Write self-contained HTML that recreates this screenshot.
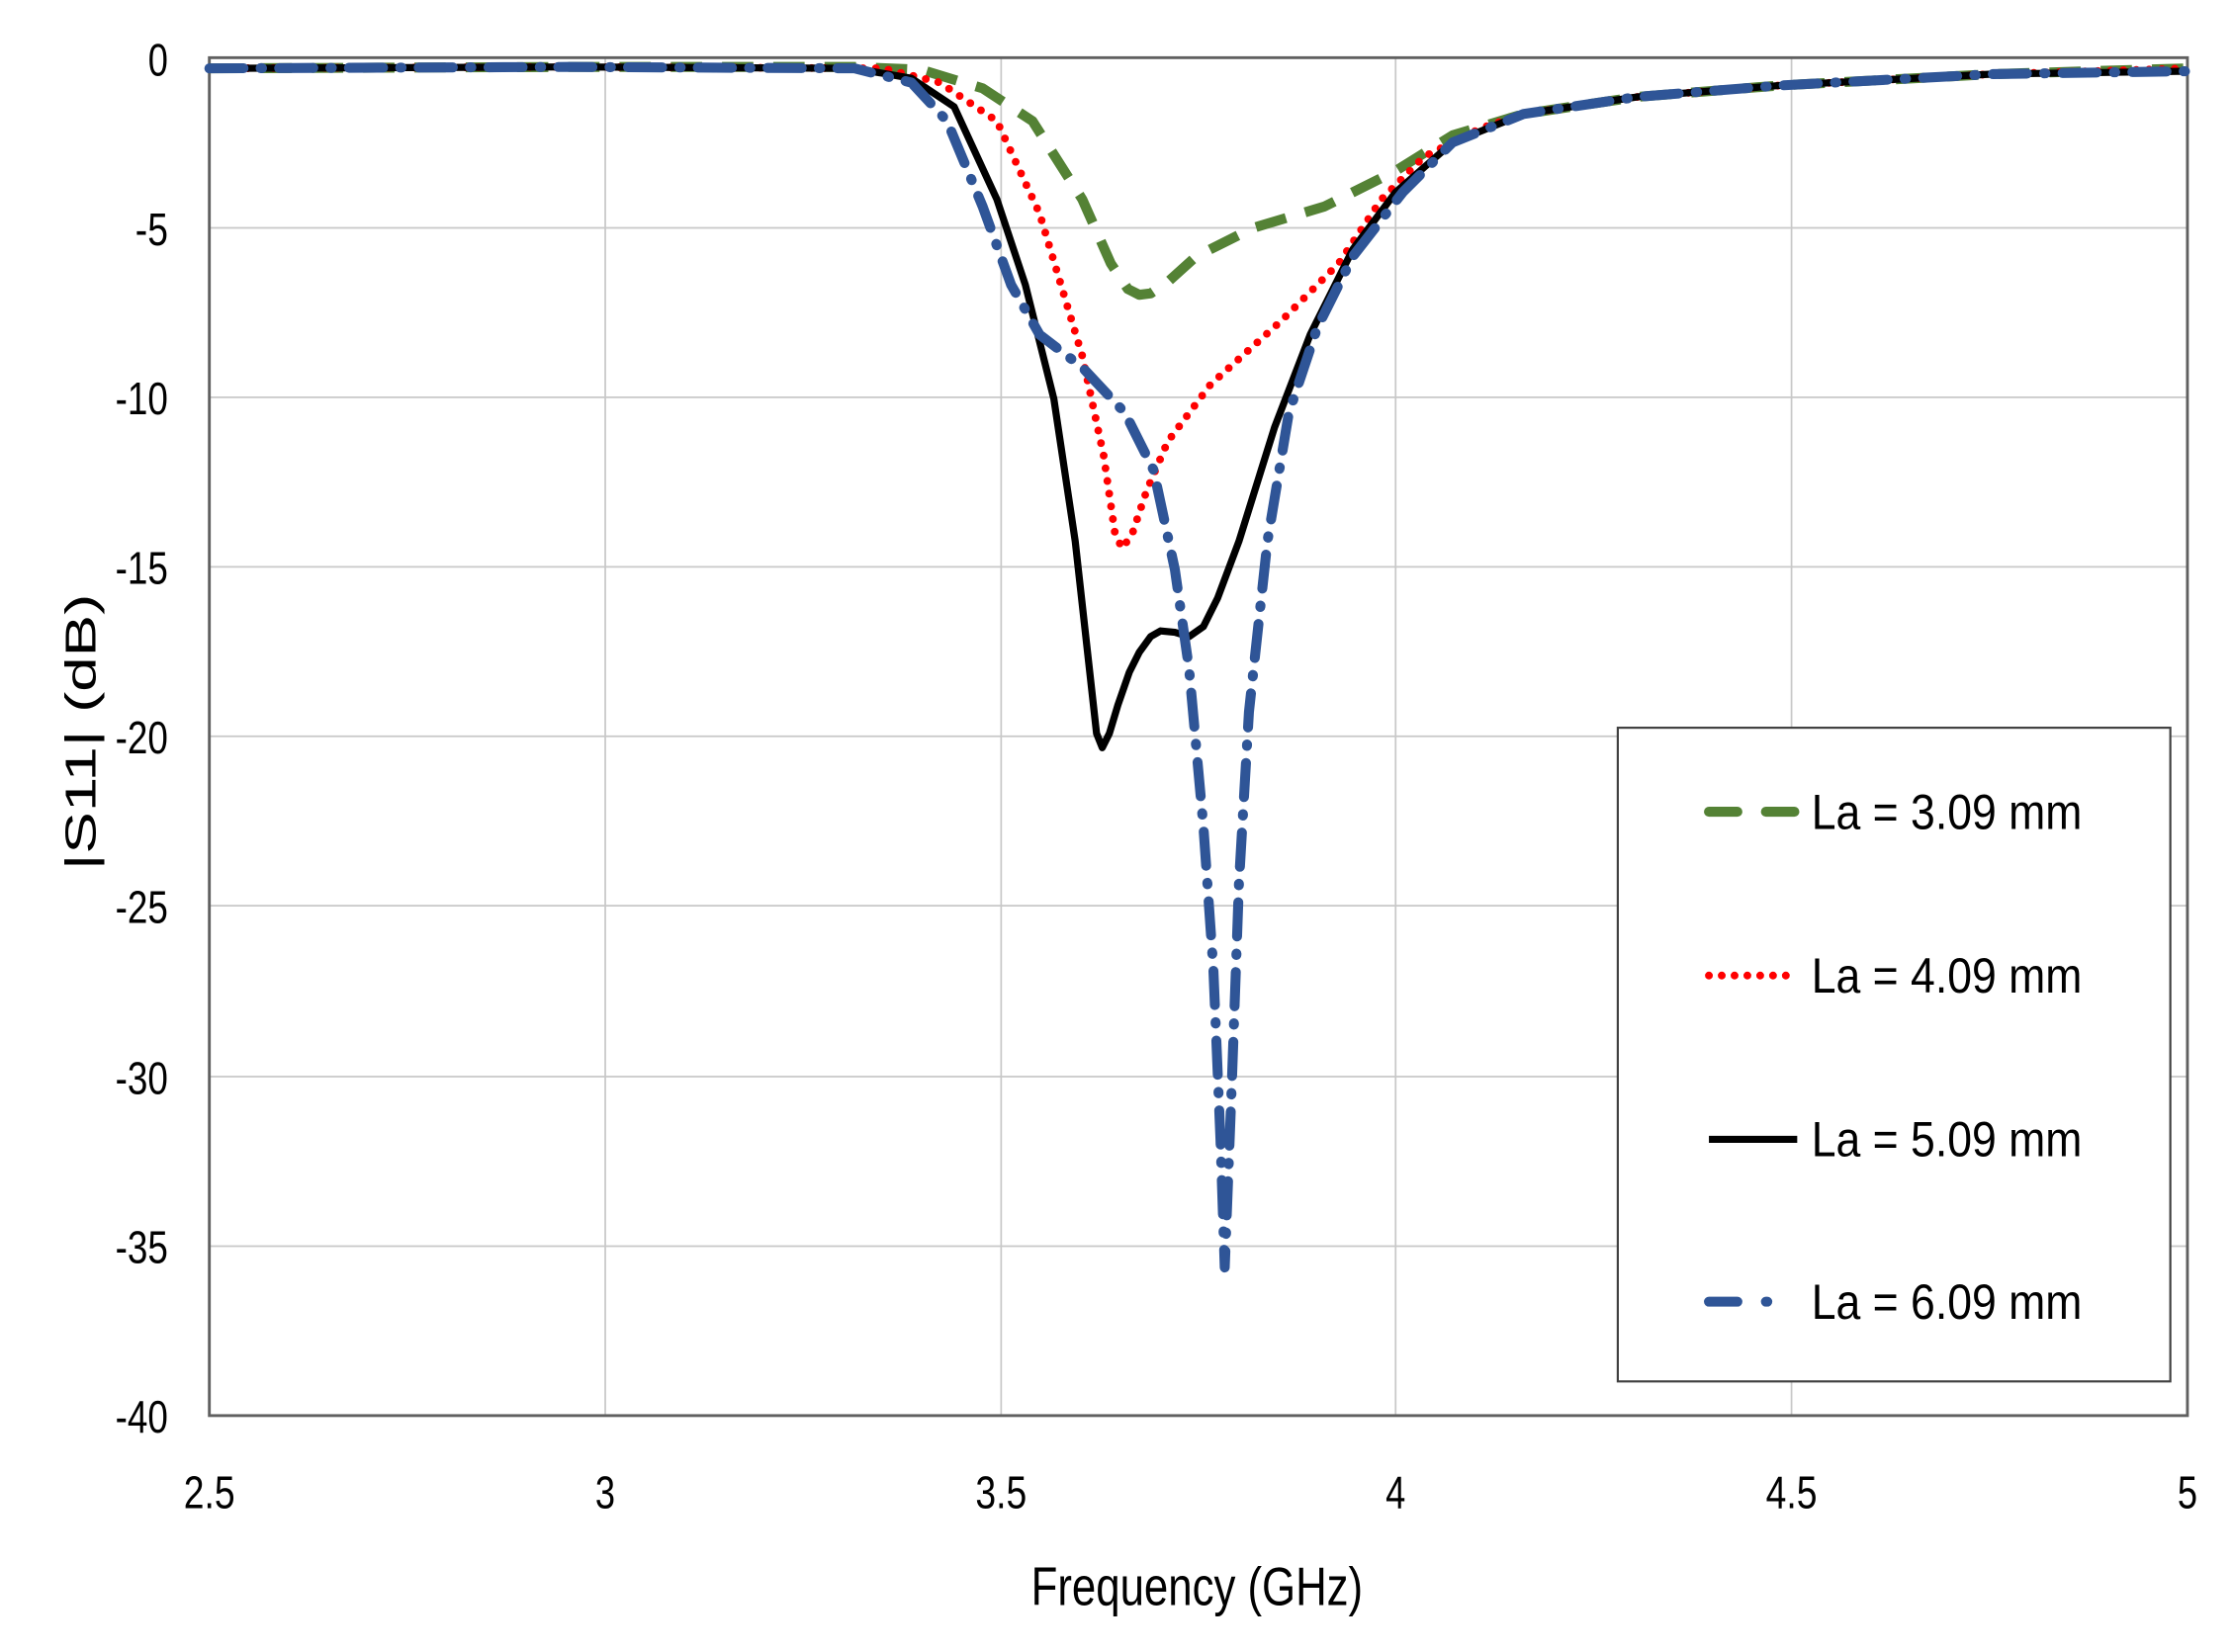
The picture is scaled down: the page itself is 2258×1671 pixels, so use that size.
<!DOCTYPE html>
<html><head><meta charset="utf-8"><style>html,body{margin:0;padding:0;background:#fff}svg{display:block}</style></head>
<body>
<svg width="2258" height="1671" viewBox="0 0 1568 1160" preserveAspectRatio="none" xmlns="http://www.w3.org/2000/svg" font-family="Liberation Sans, sans-serif">
<rect width="1568" height="1160" fill="#fff"/>
<g stroke="#c8c8c8" stroke-width="1.2">
<line x1="147" y1="160" x2="1536" y2="160"/><line x1="147" y1="279" x2="1536" y2="279"/>
<line x1="147" y1="398" x2="1536" y2="398"/><line x1="147" y1="517" x2="1536" y2="517"/>
<line x1="147" y1="636" x2="1536" y2="636"/><line x1="147" y1="756" x2="1536" y2="756"/>
<line x1="147" y1="875" x2="1536" y2="875"/>
<line x1="425" y1="40" x2="425" y2="994"/><line x1="703" y1="40" x2="703" y2="994"/>
<line x1="980" y1="40" x2="980" y2="994"/><line x1="1258" y1="40" x2="1258" y2="994"/>
</g>
<rect x="147" y="40.5" width="1389" height="953.5" fill="none" stroke="#606060" stroke-width="2"/>
<g fill="none" stroke-linejoin="round">
<polyline stroke="#548235" stroke-width="7" stroke-dasharray="22 14" points="147,48 400,47 600,47 647,49 690,62 725,85 760,140 780,185 792,203 800,207 808,206 820,198 840,180 880,160 930,145 980,120 1020,95 1070,80 1150,68 1250,60 1400,52 1536,48"/>
<polyline stroke="#ff0000" stroke-width="5.5" stroke-dasharray="0 9" stroke-linecap="round" points="147,48 400,47 620,48 660,58 700,85 730,150 760,250 775,320 783,375 788,385 795,375 805,345 820,310 850,270 900,225 940,185 970,140 1000,110 1040,90 1070,80 1150,68 1250,60 1400,52 1536,48"/>
<polyline stroke="#000" stroke-width="5" points="147,48 400,47 600,48 640,55 670,75 700,140 720,200 740,280 755,380 765,470 770,515 774,525 779,515 785,495 793,472 800,458 808,447 815,443 825,444 835,447 845,440 855,420 870,380 895,300 920,235 950,175 980,135 1020,100 1070,80 1150,68 1250,60 1400,52 1536,50"/>
<polyline stroke="#2f5597" stroke-width="7" stroke-dasharray="24 12 1 12" stroke-linecap="round" points="147,48 400,47 600,48 640,58 665,85 690,145 710,200 730,235 760,258 790,290 810,330 825,400 835,470 845,580 852,680 857,800 860,890 865,760 870,620 877,500 890,380 905,290 925,230 950,180 985,135 1020,100 1070,80 1150,68 1250,60 1400,52 1536,50"/>
</g>
<g font-size="32" fill="#000" text-anchor="end">
<text x="118" y="53" textLength="14" lengthAdjust="spacingAndGlyphs">0</text>
<text x="118" y="172" textLength="23" lengthAdjust="spacingAndGlyphs">-5</text>
<text x="118" y="291" textLength="37" lengthAdjust="spacingAndGlyphs">-10</text>
<text x="118" y="410" textLength="37" lengthAdjust="spacingAndGlyphs">-15</text>
<text x="118" y="529" textLength="37" lengthAdjust="spacingAndGlyphs">-20</text>
<text x="118" y="648" textLength="37" lengthAdjust="spacingAndGlyphs">-25</text>
<text x="118" y="768" textLength="37" lengthAdjust="spacingAndGlyphs">-30</text>
<text x="118" y="887" textLength="37" lengthAdjust="spacingAndGlyphs">-35</text>
<text x="118" y="1006" textLength="37" lengthAdjust="spacingAndGlyphs">-40</text>
</g>
<g font-size="32" fill="#000" text-anchor="middle">
<text x="147" y="1059" textLength="36" lengthAdjust="spacingAndGlyphs">2.5</text>
<text x="425" y="1059" textLength="14" lengthAdjust="spacingAndGlyphs">3</text>
<text x="703" y="1059" textLength="36" lengthAdjust="spacingAndGlyphs">3.5</text>
<text x="980" y="1059" textLength="14" lengthAdjust="spacingAndGlyphs">4</text>
<text x="1258" y="1059" textLength="36" lengthAdjust="spacingAndGlyphs">4.5</text>
<text x="1536" y="1059" textLength="14" lengthAdjust="spacingAndGlyphs">5</text>
</g>
<text x="724" y="1127" font-size="38" textLength="233" lengthAdjust="spacingAndGlyphs">Frequency (GHz)</text>
<text transform="translate(67,611) rotate(-90)" font-size="30" textLength="194" lengthAdjust="spacingAndGlyphs">|S11| (dB)</text>
<rect x="1136" y="511" width="388" height="459" fill="#fff" stroke="#404040" stroke-width="1.5"/>
<g stroke-linecap="round" fill="none">
<line x1="1200" y1="570" x2="1262" y2="570" stroke="#548235" stroke-width="7" stroke-dasharray="20 20"/>
<line x1="1200" y1="685" x2="1262" y2="685" stroke="#ff0000" stroke-width="5.5" stroke-dasharray="0 9"/>
<line x1="1200" y1="800" x2="1262" y2="800" stroke="#000" stroke-width="5" stroke-linecap="butt"/>
<line x1="1200" y1="914" x2="1262" y2="914" stroke="#2f5597" stroke-width="7" stroke-dasharray="20 20 1 30"/>
</g>
<g font-size="35" fill="#000">
<text x="1272" y="582" textLength="190" lengthAdjust="spacingAndGlyphs">La = 3.09 mm</text>
<text x="1272" y="697" textLength="190" lengthAdjust="spacingAndGlyphs">La = 4.09 mm</text>
<text x="1272" y="812" textLength="190" lengthAdjust="spacingAndGlyphs">La = 5.09 mm</text>
<text x="1272" y="926" textLength="190" lengthAdjust="spacingAndGlyphs">La = 6.09 mm</text>
</g>
</svg>
</body></html>
